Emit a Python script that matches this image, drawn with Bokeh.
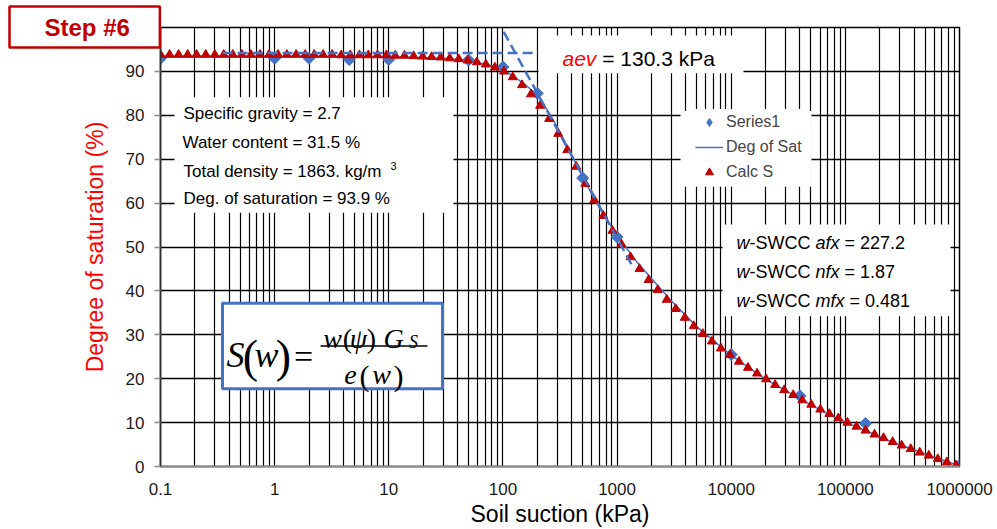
import math
from bokeh.plotting import figure
from bokeh.models import FixedTicker, Label, BoxAnnotation, Legend, LegendItem, Range1d, Title
from bokeh.embed import file_html
from bokeh.resources import INLINE

# ---------------- data ----------------
suction_calc = [0.1, 0.12, 0.144, 0.173, 0.207, 0.249, 0.299, 0.358, 0.43, 0.516,
                0.619, 0.743, 0.892, 1.07, 1.28, 1.54, 1.85, 2.22, 2.66, 3.19,
                3.83, 4.6, 5.52, 6.62, 7.95, 9.54, 11.4, 13.7, 16.5, 19.8,
                23.7, 28.5, 34.2, 41.0, 49.2, 59.1, 70.9, 85.1, 102, 122,
                147, 176, 212, 254, 305, 366, 439, 527, 632, 759,
                911, 1093, 1312, 1574, 1889, 2267, 2720, 3264, 3917, 4700,
                5640, 6768, 8122, 9746, 11695, 14034, 16841, 20209, 24251, 29101,
                34921, 41905, 50286, 60344, 72412, 86895, 104274, 125129, 150155, 180186,
                216223, 259467, 311361, 373633, 448360, 538032, 645639, 774767, 929720]
sat_calc = [93.8, 93.8, 93.8, 93.8, 93.8, 93.8, 93.8, 93.8, 93.8, 93.8,
            93.8, 93.8, 93.8, 93.8, 93.8, 93.8, 93.8, 93.8, 93.8, 93.8,
            93.7, 93.7, 93.7, 93.7, 93.7, 93.7, 93.6, 93.6, 93.5, 93.4,
            93.3, 93.2, 93.0, 92.8, 92.5, 92.1, 91.6, 90.9, 90.0, 88.7,
            86.9, 84.8, 82.2, 79.2, 75.8, 72.1, 68.3, 64.4, 60.7, 57.1,
            53.7, 50.6, 47.7, 45.0, 42.5, 40.2, 38.0, 35.9, 33.9, 32.0,
            30.2, 28.5, 26.9, 25.4, 23.9, 22.5, 21.2, 19.9, 18.6, 17.4,
            16.3, 15.1, 14.1, 13.0, 12.0, 11.0, 10.0, 9.1, 8.2, 7.3,
            6.5, 5.6, 4.8, 4.0, 3.2, 2.5, 1.7, 1.0, 0.3]

suction_meas = [0.1, 1, 2, 4.5, 10, 50, 100, 200, 500, 1000, 10000, 40000, 150000, 1000000]
sat_meas = [93.0, 93.0, 93.0, 92.7, 92.7, 92.6, 91.0, 85.0, 65.7, 52.3, 25.5, 16.1, 9.8, 0.2]

suction_fit = [0.1, 1, 10, 30, 50, 80, 100, 130, 160, 200, 250, 300, 400, 500, 700,
               1000, 1500, 2000, 3000, 5000, 10000, 20000, 40000, 70000, 100000,
               150000, 250000, 400000, 600000, 1000000]
sat_fit = [93.5, 93.5, 93.4, 93.0, 92.5, 91.3, 90.4, 88.5, 86.8, 84.6, 80.8, 77.3, 71.0, 65.9, 58.9,
           52.6, 46.5, 42.8, 37.7, 31.8, 25.3, 19.9, 15.4, 12.0, 10.1,
           8.2, 5.7, 3.8, 2.1, 0.2]

aev_x = [0.35, 205]
aev_y = [94.2, 94.2]
tangent_x = [87.8, 1365]
tangent_y = [102.0, 45.6]

x_ticks = [0.1, 1, 10, 100, 1000, 10000, 100000, 1000000]
x_tick_labels = ["0.1", "1", "10", "100", "1000", "10000", "100000", "1000000"]
y_ticks = [0, 10, 20, 30, 40, 50, 60, 70, 80, 90]

params_text = ["Specific gravity = 2.7", "Water content = 31.5 %",
               "Total density = 1863. kg/m", "Deg. of saturation = 93.9 %"]
swcc_names = ["afx", "nfx", "mfx"]
swcc_values = ["227.2", "1.87", "0.481"]

# ---------------- layout ----------------
W, H = 997, 529
FL, FR, FT, FB = 160, 959, 27, 468
BLUE = "#4472C4"
DRED = "#C00000"
RED = "#FF0000"
SANS = "Liberation Sans"
SERIF = "Liberation Serif"

p = figure(width=W, height=H, x_axis_type="log",
           x_range=Range1d(0.1, 1e6), y_range=Range1d(0, 100),
           output_backend="svg", toolbar_location=None,
           min_border_left=FL, min_border_right=W - FR,
           min_border_top=FT, min_border_bottom=H - FB)
p.background_fill_color = "white"
p.border_fill_color = "white"
p.outline_line_color = "black"
p.outline_line_width = 1.5

p.title = Title(text="Step #6", align="left", offset=9 - FL, vertical_align="bottom",
                standoff=-40, text_font=SANS, text_font_size="24px",
                text_font_style="bold", text_color=DRED,
                background_fill_color="white", background_fill_alpha=1.0,
                border_line_color=DRED, border_line_width=2.5,
                padding=dict(left=35, right=30, top=7, bottom=7))


def sx(px):
    return 10 ** (-1 + 7 * (px - FL) / (FR - FL))


def sy(py):
    return 100 * (FB - py) / (FB - FT)


# axes
minor = [m * 10 ** k for k in range(-1, 6) for m in range(2, 10)]
p.xaxis.ticker = FixedTicker(ticks=x_ticks, minor_ticks=minor)
p.xaxis.major_label_overrides = dict(zip(x_ticks, x_tick_labels))
p.yaxis.ticker = FixedTicker(ticks=y_ticks)
for ax in (p.xaxis, p.yaxis):
    ax.major_label_text_font = SANS
    ax.major_label_text_font_size = "17px"
    ax.major_label_text_color = "#1a1a1a"
    ax.minor_tick_line_color = None
    ax.major_tick_in = 0
    ax.axis_label_text_font = SANS
    ax.axis_label_text_font_size = "23px"
    ax.axis_label_text_font_style = "normal"
p.xaxis.axis_label = "Soil suction (kPa)"
p.xaxis.axis_label_text_color = "black"
p.xaxis.axis_label_standoff = 3
p.yaxis.axis_label = "Degree of saturation (%)"
p.yaxis.axis_label_text_color = RED
p.yaxis.axis_label_standoff = 15

p.xaxis.axis_line_color = "#8c8c8c"
p.xaxis.axis_line_width = 2
p.xaxis.major_tick_out = 0
p.xaxis.major_label_standoff = 12
p.yaxis.axis_line_color = "#303030"
p.yaxis.axis_line_width = 1.5
p.yaxis.major_tick_line_color = "#8c8c8c"
p.yaxis.major_tick_line_width = 1.5
p.yaxis.major_tick_out = 6
p.yaxis.major_label_standoff = 10

p.xgrid.grid_line_color = "black"
p.xgrid.grid_line_width = 1.2
p.xgrid.minor_grid_line_color = "black"
p.xgrid.minor_grid_line_width = 1.2
p.ygrid.grid_line_color = "black"
p.ygrid.grid_line_width = 1.3

# data renderers
r_meas = p.scatter(suction_meas, sat_meas, marker="square", angle=math.pi / 4, size=8.5,
                   fill_color=BLUE, line_color=BLUE)
r_fit = p.line(suction_fit, sat_fit, line_color=BLUE, line_width=1.5)
r_calc = p.scatter(suction_calc, sat_calc, marker="triangle", size=9,
                   fill_color=DRED, line_color=DRED)
p.line(aev_x, aev_y, line_color=BLUE, line_width=2.5, line_dash="10 5")
p.line(tangent_x, tangent_y, line_color=BLUE, line_width=2.5, line_dash="10 5")
# legend key for the measured series (hidden in the plot, drawn as a diamond in the legend)
r_meas_key = p.scatter(suction_meas, sat_meas, marker="diamond", size=14,
                       fill_color=BLUE, line_color=BLUE, visible=False)


# white boxes
def wbox(l, r, t, b, line_color=None, line_width=0):
    bx = BoxAnnotation(left=sx(l), right=sx(r), top=sy(t), bottom=sy(b),
                       fill_color="white", fill_alpha=1.0,
                       line_color=line_color if line_color else "white",
                       line_alpha=1.0 if line_color else 0.0,
                       line_width=line_width)
    p.add_layout(bx)


wbox(174, 453, 97, 213)
wbox(538, 743, 35, 73)
wbox(680, 811, 111, 187)
wbox(722, 950, 225, 317)
wbox(222, 442, 304, 390, line_color=BLUE, line_width=3)


def label(text, px, py, size, color="black", font=SANS, style="normal",
          align="left", baseline="middle", angle=0.0):
    lab = Label(x=sx(px), y=sy(py), text=text, text_font=font,
                text_font_size=f"{size}px", text_color=color,
                text_font_style=style, text_align=align,
                text_baseline=baseline, angle=angle)
    p.add_layout(lab)
    return lab


ARIAL = {' ': 278, '-': 333, '.': 278, '=': 584, 'S': 667, 'W': 944, 'C': 722,
         'a': 556, 'e': 556, 'f': 278, 'k': 500, 'm': 833, 'n': 556, 'v': 500,
         'w': 722, 'x': 500, 'P': 667}


def tw(text, size):
    return sum(ARIAL.get(c, 556) for c in text) * size / 1000.0


def runs(parts, px, py, size, colors=None):
    x = px
    for i, (txt, ital) in enumerate(parts):
        col = colors[i] if colors else "black"
        core = txt.lstrip(" ")
        lead = len(txt) - len(core)
        x += tw(" " * lead, size)
        label(core, x, py, size, color=col, style="italic" if ital else "normal")
        x += tw(core, size)


# legend
legend = Legend(items=[LegendItem(label="Series1", renderers=[r_meas_key]),
                       LegendItem(label="Deg of Sat", renderers=[r_fit]),
                       LegendItem(label="Calc S", renderers=[r_calc])],
                location=(692 - FL, FB - 187), padding=3, spacing=5,
                glyph_width=28, glyph_height=20, label_height=20,
                label_standoff=3, label_text_font=SANS,
                label_text_font_size="16px", border_line_alpha=0,
                background_fill_color="white", background_fill_alpha=1.0, margin=0,
                inactive_fill_alpha=0.0)
p.add_layout(legend)

# parameter text box
param_pos = [(183, 113), (182, 143), (183, 172), (183, 199)]
for txt, (px, py) in zip(params_text, param_pos):
    label(txt, px, py, 17)
label("3", 390, 166, 11)

# w-SWCC text box
for i, (nm, val) in enumerate(zip(swcc_names, swcc_values)):
    runs([("w", True), ("-SWCC ", False), (nm, True), (" = " + val, False)],
         736, 243 + 29.5 * i, 18)

# aev annotation
runs([("aev", True), (" = 130.3 kPa", False)], 562, 58, 21, colors=[RED, "black"])

# formula
formula = [("S", 235, 356, 36, "italic"), ("(", 250, 358, 46, "normal"),
           ("w", 266, 356, 36, "italic"), (")", 283, 358, 46, "normal"),
           ("=", 303, 357, 34, "normal"),
           ("w", 332, 339, 28, "italic"), ("(", 347, 339, 28, "normal"),
           ("\u03c8", 358, 339, 28, "italic"), (")", 371, 339, 28, "normal"),
           ("G", 393, 339, 28, "italic"), ("S", 413, 343, 18, "italic"),
           ("e", 350, 376, 28, "italic"), ("(", 364, 377, 30, "normal"),
           ("w", 381, 376, 28, "italic"), (")", 398, 377, 30, "normal")]
for txt, px, py, size, st in formula:
    label(txt, px, py, size, font=SERIF, style=st, align="center", baseline="alphabetic")
p.add_layout(BoxAnnotation(left=sx(320), right=sx(427), top=sy(346.2), bottom=sy(347.8),
                           fill_color="black", fill_alpha=1.0, line_alpha=0.0))

open("out.html", "w").write(file_html(p, INLINE))
